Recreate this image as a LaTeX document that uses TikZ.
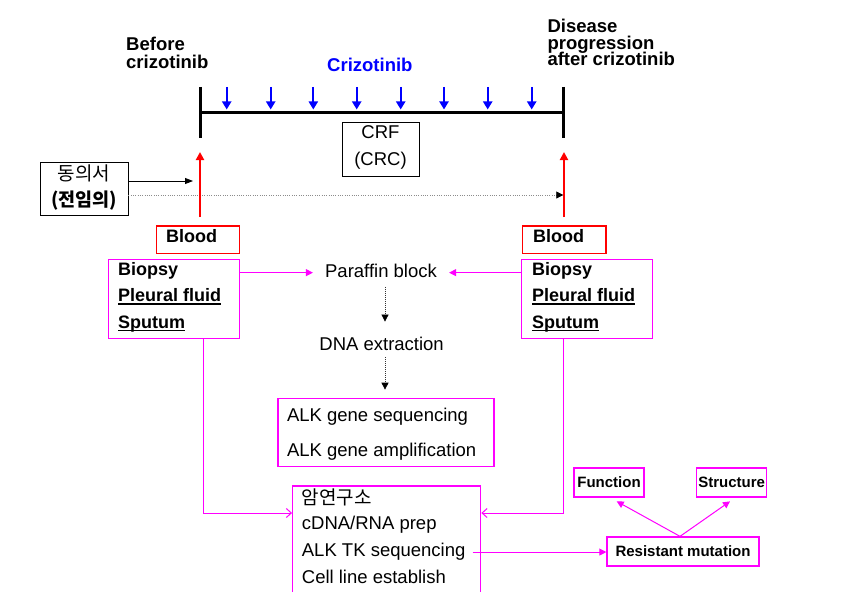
\documentclass[tikz,border=0pt]{standalone}
\usepackage{fontspec}
\setmainfont{Liberation Sans}
\newfontfamily\kr{Noto Sans CJK KR}
\usetikzlibrary{arrows.meta}
\definecolor{mag}{HTML}{FF00FF}
\definecolor{blu}{HTML}{0000FF}
\definecolor{rd}{HTML}{FF0000}
\newcommand\myul[1]{\setbox0\hbox{#1}\rlap{\rule[-3pt]{\wd0}{1.3pt}}\box0}
\begin{document}
\begin{tikzpicture}[x=1pt,y=-1pt,
  txt/.style={font=\fontsize{18.5}{20}\selectfont, inner sep=0, text height=13.2pt, text depth=3.9pt},
  btxt/.style={font=\fontsize{18}{20}\selectfont\bfseries, inner sep=0},
  ttl/.style={font=\fontsize{18.5}{20}\selectfont\bfseries, inner sep=0, anchor=base west},
  krt/.style={font=\kr\fontsize{19}{20}\selectfont, inner sep=0},
  krb/.style={font=\kr\bfseries\fontsize{18.5}{20}\selectfont, inner sep=0},
  sm/.style={font=\fontsize{15}{17}\selectfont\bfseries, inner sep=0},
  mbox/.style={draw=mag, line width=1.3pt, inner sep=0},
  rbox/.style={draw=rd, line width=1.2pt, inner sep=0},
  kbox/.style={draw=black, line width=0.9pt, inner sep=0},
  bluarr/.style={draw=blu, line width=2.2pt, -{Triangle[length=8pt,width=9pt]}},
  redarr/.style={draw=rd, line width=2.2pt, -{Triangle[length=8pt,width=8pt]}},
  magarr/.style={draw=mag, line width=1pt, -{Triangle[length=7pt,width=7pt]}},
  magbarb/.style={draw=mag, line width=1pt, -{Straight Barb[length=5pt,width=9pt]}},
  dotarr/.style={draw=black!80, line width=0.7pt, dash pattern=on 0.8pt off 1.2pt, -{Triangle[length=7pt,width=7pt,color=black]}},
]
\useasboundingbox (0,0) rectangle (858,591);
\clip (0,0) rectangle (858,591);
\fill[white] (0,0) rectangle (858,591);

% titles
\node[ttl] (b1) at (126,51) {Before};
\node[ttl] (b2) at (126,68.3) {crizotinib};
\node[ttl, text=blu] (cz) at (327,71.7) {Crizotinib};
\node[ttl] (d1) at (547.3,32.3) {Disease};
\node[ttl] (d2) at (547.3,49.3) {progression};
\node[ttl] (d3) at (547.3,66) {after crizotinib};

% timeline
\coordinate (t0) at (200,112);
\coordinate (t1) at (563.3,112);
\draw[line width=3pt] (t0) -- (t1);
\draw[line width=3pt] (200,87) -- (200,138);
\draw[line width=3pt] (563.3,87) -- (563.3,138);
\foreach \x in {226.7,270.7,313.3,356.7,400.7,444,487.7,531.7}
  \draw[bluarr] (\x,87) -- (\x,109.5);

% CRF
\node[kbox, minimum width=77, minimum height=54] (crf) at (380.5,149) {};
\node[txt, anchor=base] (crf1) at (380.5,138.3) {CRF};
\node[txt, anchor=base] (crf2) at (380.5,165) {(CRC)};

% consent
\node[kbox, minimum width=88, minimum height=53] (consent) at (84,188.5) {};
\node[krt, anchor=base] (c1) at (84,180.4) {동의서};
\node[krb, anchor=base] (c2) at (84,206.5) {(전임의)};
\coordinate (ca) at (193,181);
\draw[line width=0.9pt, -{Triangle[length=8pt,width=6pt]}] (consent.east |- ca) -- (ca);
\coordinate (dd) at (563.3,195);
\draw[draw=black!45, line width=0.8pt, dash pattern=on 1pt off 1.3pt, -{Triangle[length=7pt,width=7pt,color=black]}] (consent.east |- dd) -- (dd);

% red arrows
\coordinate (rl0) at (200,217); \coordinate (rl1) at (200,152);
\coordinate (rr0) at (564,217); \coordinate (rr1) at (564,152);
\draw[redarr] (rl0) -- (rl1);
\draw[redarr] (rr0) -- (rr1);

% blood
\node[rbox, minimum width=82.6, minimum height=27.3] (bloodL) at (198,239.7) {};
\node[btxt, anchor=base west] (bl) at (166,242.7) {Blood};
\node[rbox, minimum width=83.5, minimum height=27.3] (bloodR) at (564.25,239.7) {};
\node[btxt, anchor=base west] (br) at (532.9,242.7) {Blood};

% biopsy boxes
\node[mbox, minimum width=131.1, minimum height=79] (bioL) at (173.75,298.8) {};
\node[btxt, anchor=base west] (bl1) at (117.9,275) {Biopsy};
\node[btxt, anchor=base west] (bl2) at (117.9,301.7) {\myul{Pleural fluid}};
\node[btxt, anchor=base west] (bl3) at (117.9,328.3) {\myul{Sputum}};
\node[mbox, minimum width=130.7, minimum height=79] (bioR) at (587.15,298.8) {};
\node[btxt, anchor=base west] (br1) at (532,275) {Biopsy};
\node[btxt, anchor=base west] (br2) at (532,301.7) {\myul{Pleural fluid}};
\node[btxt, anchor=base west] (br3) at (532,328.3) {\myul{Sputum}};

% center chain
\node[txt, anchor=base] (para) at (381,277.3) {Paraffin block};
\node[txt, anchor=base] (dna) at (381.6,350) {DNA extraction};
\node[mbox, minimum width=216.1, minimum height=68.4] (alk) at (385.95,432.5) {};
\node[txt, anchor=base west] (alk1) at (286.8,421.7) {ALK gene sequencing};
\node[txt, anchor=base west] (alk2) at (286.8,456) {ALK gene amplification};

\draw[magarr] (bioL.east |- para) -- ([xshift=-12pt]para.west);
\draw[magarr] (bioR.west |- para) -- ([xshift=12pt]para.east);
\coordinate (dx) at (385,0);
\draw[dotarr, shorten <=5.5pt, shorten >=15pt] (para.south -| dx) -- (dna.north -| dx);
\draw[dotarr, shorten <=3pt, shorten >=8pt] (dna.south -| dx) -- (alk.north -| dx);

% bottom box
\node[mbox, minimum width=188, minimum height=120] (cb) at (386.7,546) {};
\node[krt, anchor=base west] (cb1) at (301.7,504) {암연구소};
\node[txt, anchor=base west] (cb2) at (301.7,529) {cDNA/RNA prep};
\node[txt, anchor=base west] (tk) at (301.7,556.7) {ALK TK sequencing};
\node[txt, anchor=base west] (cb4) at (301.7,583.3) {Cell line establish};

\coordinate (jl) at (203,513);
\coordinate (jr) at (563.5,513);
\draw[magbarb] (bioL.south -| jl) -- (jl) -- (cb.west |- jl);
\draw[magbarb] (bioR.south -| jr) -- (jr) -- (cb.east |- jr);

% resistant mutation
\node[mbox, sm, minimum width=152, minimum height=29] (rm) at (683,551.5) {Resistant mutation};
\node[mbox, sm, minimum width=70, minimum height=29] (fn) at (609,482.5) {Function};
\node[mbox, sm, minimum width=70, minimum height=29] (st) at (731.7,482.5) {Structure};
\draw[magarr] ([xshift=7pt]tk.east) -- (tk.east -| rm.west);
\draw[magarr] ([xshift=-3pt]rm.north) -- ([xshift=7.7pt,yshift=-3.7pt]fn.south);
\draw[magarr] ([xshift=-3pt]rm.north) -- ([xshift=-1.7pt,yshift=-3.7pt]st.south);
\end{tikzpicture}
\end{document}
